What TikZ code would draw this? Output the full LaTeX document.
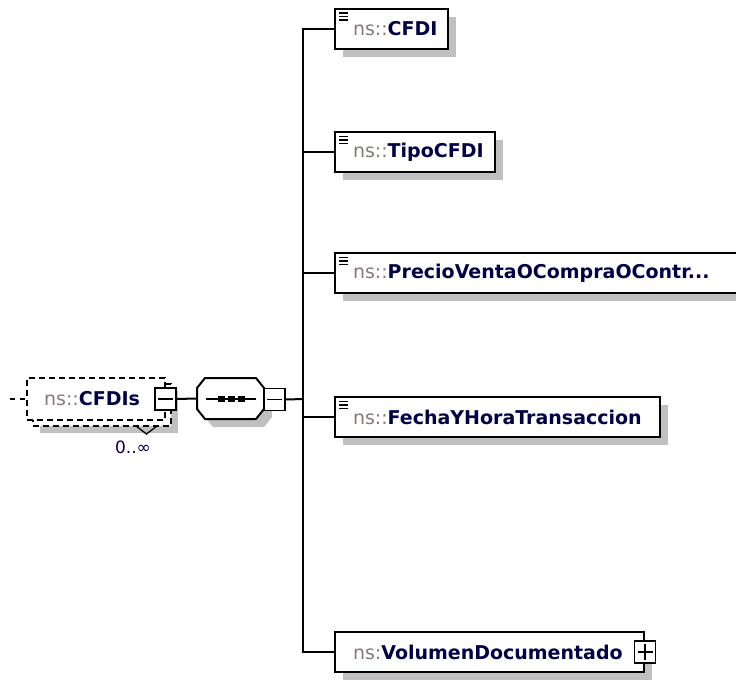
\documentclass[tikz,border=0pt]{standalone}
\usepackage{fontspec}
\setmainfont{DejaVu Sans}
\usetikzlibrary{positioning,calc,shadows}

\definecolor{nsgray}{RGB}{135,122,118}
\definecolor{elname}{RGB}{0,0,70}
\definecolor{shade}{RGB}{192,192,192}

\newcommand{\nsname}[2][ns::]{{\color{nsgray}#1}{\bfseries\color{elname}#2}}

\begin{document}
\begin{tikzpicture}[x=1pt,y=-1pt,line width=2pt,
  every node/.style={font=\fontsize{19}{22}\selectfont},
  elem/.style={draw,fill=white,anchor=west,minimum height=40pt,inner sep=0pt,
    text width=#1,align=left,
    general shadow={fill=shade,shadow xshift=8pt,shadow yshift=-8pt},
    execute at begin node={\hspace*{18pt}}},
  docicon/.style={path picture={
    \foreach \k in {4.5,8,11.5}
      \draw[line width=1.5pt] ([shift={(4pt,-\k*1pt)}]path picture bounding box.north west) -- ++(9pt,0pt);}},
  toggle/.style={draw,fill=white,line width=1.8pt,inner sep=0pt,minimum width=21pt,minimum height=22pt},
  minus/.style={toggle,path picture={
    \draw[line width=1.8pt] ([xshift=3pt]path picture bounding box.west) -- ([xshift=-3pt]path picture bounding box.east);}},
  plus/.style={toggle,path picture={
    \draw[line width=1.8pt] ([xshift=3pt]path picture bounding box.west) -- ([xshift=-3pt]path picture bounding box.east);
    \draw[line width=1.8pt] ([yshift=-3pt]path picture bounding box.north) -- ([yshift=3pt]path picture bounding box.south);}},
  multi/.style={draw,dash pattern=on 6pt off 4pt,line width=1.6pt,fill=white}
]
\useasboundingbox (0,0) rectangle (736,681);

% element CFDIs (0..unbounded)
\node[multi,minimum width=138pt,minimum height=42pt,inner sep=0pt,
  general shadow={fill=shade,shadow xshift=13pt,shadow yshift=-13pt},
  general shadow={multi,shadow xshift=6pt,shadow yshift=-6pt}]
  (cfdis) at (96,399) {\nsname{CFDIs}\hspace*{8pt}};
\node[minus] (cfdism) at (cfdis.east) {};
\coordinate (in) at (10,399);
\draw[line width=1.6pt,dash pattern=on 5pt off 5pt] (in) -- (cfdis.west);
\draw[line width=1.3pt] (136,426) -- (146.5,434) -- (157,426);
\node[text=elname,font=\fontsize{17}{20}\selectfont] (occ) at (133,447) {0..∞};

% sequence
\filldraw[fill=white,general shadow={fill=shade,shadow xshift=8pt,shadow yshift=-8pt}]
  (205,378) -- (256,378) -- (264,388) -- (264,409) -- (256,419)
  -- (205,419) -- (197,409) -- (197,388) -- cycle;
\node[inner sep=0pt,minimum width=67pt,minimum height=41pt] (seq) at (230.5,398.5) {};
\draw (206,399) -- (256,399);
\foreach \cx in {221,231,241}
  \fill (\cx-3.5,396) rectangle (\cx+3.5,402);
\node[minus] (seqm) at (274.5,399.5) {};
\draw (cfdism.east) -- (seq.west);

% children
\node[elem=113pt,docicon] (cfdi) at (334,28.5) {\nsname{CFDI}};
\node[elem=160pt,docicon] (tipo) at (334,152) {\nsname{TipoCFDI}};
\node[elem=402pt,docicon] (precio) at (334,273) {\nsname{PrecioVentaOCompraOContr...}};
\node[elem=325pt,docicon] (fecha) at (334,417) {\nsname{FechaYHoraTransaccion}};
\node[elem=309pt] (volumen) at (334,652) {\nsname[ns:]{VolumenDocumentado}};
\node[plus] (volumenp) at (volumen.east) {};

\coordinate (fork) at (303,399);
\draw (seqm.east) -- (fork);
\foreach \n in {cfdi,tipo,precio,fecha,volumen}
  \draw (fork) |- (\n.west);
\end{tikzpicture}
\end{document}
